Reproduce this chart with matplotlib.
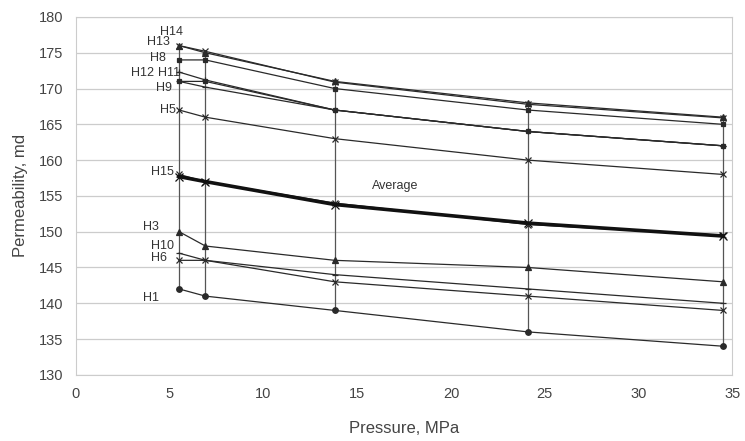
import matplotlib
matplotlib.use('Agg')
import matplotlib.pyplot as plt

plt.rcParams['font.family'] = ['Liberation Sans', 'DejaVu Sans']

# pressure steps, MPa
pressure = [5.5, 6.9, 13.8, 24.1, 34.5]

# permeability per sample, md
H14 = [176.0, 175.0, 171.0, 168.0, 166.0]
H13 = [176.0, 175.2, 170.9, 167.8, 165.9]
H8 = [174.0, 174.0, 170.0, 167.0, 165.0]
H11 = [172.3, 171.2, 167.0, 164.0, 162.0]
H12 = [171.0, 171.0, 167.0, 164.0, 162.0]
H9 = [171.0, 170.2, 167.0, 164.0, 162.0]
H5 = [167.0, 166.0, 163.0, 160.0, 158.0]
H15 = [158.0, 157.0, 154.0, 151.0, 149.5]
H3 = [150.0, 148.0, 146.0, 145.0, 143.0]
H10 = [147.0, 146.0, 144.0, 142.0, 140.0]
H6 = [146.0, 146.0, 143.0, 141.0, 139.0]
H1 = [142.0, 141.0, 139.0, 136.0, 134.0]
average = [157.7, 157.0, 153.8, 151.2, 149.4]

series = {
    'H14': H14, 'H13': H13, 'H8': H8, 'H11': H11, 'H12': H12, 'H9': H9,
    'H5': H5, 'H15': H15, 'H3': H3, 'H10': H10, 'H6': H6, 'H1': H1,
}
markers = {
    'H14': '^', 'H13': 'x', 'H8': 's', 'H11': '+', 'H12': 's', 'H9': '_',
    'H5': 'x', 'H15': 'x', 'H3': '^', 'H10': '_', 'H6': 'x', 'H1': 'o',
}
# label anchors (right edge, data coords)
label_pos = {
    'H14': (5.7, 177.9), 'H13': (5.0, 176.5), 'H8': (4.8, 174.3),
    'H12': (4.15, 172.2), 'H11': (5.55, 172.2), 'H9': (5.1, 170.1),
    'H5': (5.3, 167.0), 'H15': (5.2, 158.4), 'H3': (4.4, 150.7),
    'H10': (5.2, 148.0), 'H6': (4.85, 146.3), 'H1': (4.4, 140.8),
}

fig = plt.figure(figsize=(7.45, 4.41), dpi=100)
ax = fig.add_axes([0.102, 0.15, 0.881, 0.8115])

line_col = '#2a2a2a'

# high-low lines at each pressure step
allvals = list(series.values())
lows = [min(v[i] for v in allvals) for i in range(len(pressure))]
highs = [max(v[i] for v in allvals) for i in range(len(pressure))]
ax.vlines(pressure, lows, highs, color='#555555', lw=0.9, zorder=2)

for name, vals in series.items():
    m = markers[name]
    ms = 3.5 if m == 's' else 4
    ax.plot(pressure, vals, color=line_col, lw=0.9, marker=m, ms=ms,
            mew=0.9, mfc=line_col, mec=line_col, zorder=3)
    lx, ly = label_pos[name]
    ax.text(lx, ly, name, ha='right', va='center', fontsize=9, color='#333333')

ax.plot(pressure, average, color='#111111', lw=2.6, marker='x', ms=5.5,
        mew=0.9, zorder=4)
ax.text(17.0, 156.4, 'Average', ha='center', va='center', fontsize=9,
        color='#333333')

ax.set_xlim(0, 35)
ax.set_ylim(130, 180)
ax.set_xticks(range(0, 36, 5))
ax.set_yticks(range(130, 181, 5))
ax.grid(axis='y', color='#cccccc', lw=0.9)
ax.set_axisbelow(True)
for s in ax.spines.values():
    s.set_color('#cccccc')
ax.tick_params(axis='both', length=0, labelsize=10.5, colors='#444444', pad=9)
ax.set_xlabel('Pressure, MPa', fontsize=12, color='#444444', labelpad=14)
ax.set_ylabel('Permeability, md', fontsize=12, color='#444444', labelpad=8)

fig.savefig('out.png', dpi=100)
